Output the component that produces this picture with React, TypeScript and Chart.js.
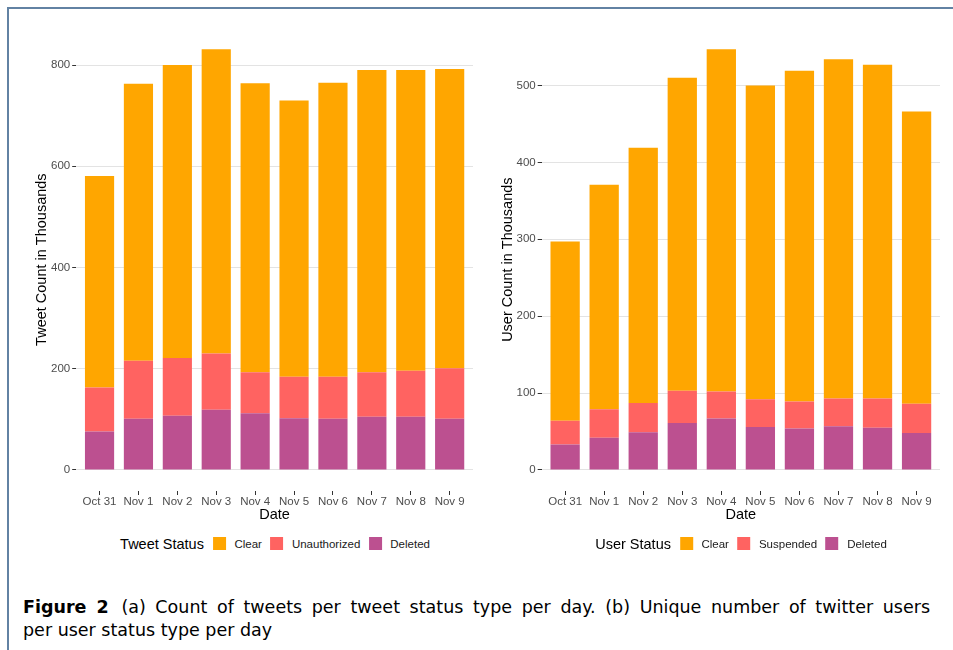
import React, { useEffect, useRef } from "react";
import { Chart, registerables } from "chart.js";

Chart.register(...registerables);

// ---------- data ----------
const dates = ["Oct 31", "Nov 1", "Nov 2", "Nov 3", "Nov 4", "Nov 5", "Nov 6", "Nov 7", "Nov 8", "Nov 9"];

// (a) tweets, thousands
const tweetDeleted = [76, 101, 107, 119, 112, 102, 101, 105, 105, 101];
const tweetUnauthorized = [87, 115, 114, 111, 81, 82, 83, 88, 91, 100];
const tweetClear = [418, 547, 579, 601, 571, 546, 581, 597, 594, 591];
const tweetTicks = [0, 200, 400, 600, 800];

// (b) users, thousands
const userDeleted = [33, 42, 49, 61, 67, 56, 54, 57, 55, 48];
const userSuspended = [31, 37, 38, 42, 35, 36, 35, 36, 38, 38];
const userClear = [233, 292, 332, 407, 445, 408, 430, 441, 434, 380];
const userTicks = [0, 100, 200, 300, 400, 500];

const COLOR_CLEAR = "#FFA600";
const COLOR_MID = "#FF6361";
const COLOR_DELETED = "#BC5090";

const FONT = "'Liberation Sans', Arial, Helvetica, sans-serif";
const CAPTION_FONT = "'DejaVu Sans', 'Open Sans', sans-serif";
Chart.defaults.font.family = FONT;

type PanelProps = {
  left: number;
  width: number;
  height: number;
  axisWidth: number;
  padRight: number;
  yTitle: string;
  yTicks: number[];
  deleted: number[];
  middle: number[];
  clear: number[];
  midLabel: string;
};

function Panel(p: PanelProps) {
  const ref = useRef<HTMLCanvasElement>(null);
  useEffect(() => {
    const totals = p.clear.map((c, i) => c + p.middle[i] + p.deleted[i]);
    const maxT = Math.max(...totals);
    const exp = maxT * 0.05;
    const toPts = (arr: number[]) => arr.map((v, i) => ({ x: i, y: v }));
    const chart = new Chart(ref.current as HTMLCanvasElement, {
      type: "bar",
      data: {
        datasets: [
          { label: "Deleted", data: toPts(p.deleted), backgroundColor: COLOR_DELETED },
          { label: p.midLabel, data: toPts(p.middle), backgroundColor: COLOR_MID },
          { label: "Clear", data: toPts(p.clear), backgroundColor: COLOR_CLEAR },
        ],
      },
      options: {
        animation: false,
        responsive: false,
        maintainAspectRatio: false,
        layout: { padding: { top: 28.3, right: p.padRight, left: 0, bottom: 0 } },
        plugins: { legend: { display: false }, tooltip: { enabled: false } },
        datasets: { bar: { barPercentage: 0.75, categoryPercentage: 1 } },
        scales: {
          x: {
            type: "linear",
            stacked: true,
            offset: false,
            min: -0.6,
            max: dates.length - 0.4,
            afterBuildTicks: (s: any) => {
              s.ticks = dates.map((_, i) => ({ value: i }));
            },
            afterFit: (s: any) => {
              s.height = p.height - 491;
            },
            ticks: {
              callback: (v: any) => dates[v as number] ?? "",
              font: { size: 11.5 },
              color: "#4D4D4D",
              padding: 0,
              maxRotation: 0,
              autoSkip: false,
            },
            grid: { offset: false, drawOnChartArea: false, drawTicks: true, tickLength: 4, tickColor: "#333333" },
            border: { display: false },
            title: { display: true, text: "Date", font: { size: 14.5 }, color: "#000000", padding: { top: 0, bottom: 6 } },
          },
          y: {
            type: "linear",
            stacked: true,
            min: -exp,
            max: maxT + exp,
            afterBuildTicks: (s: any) => {
              s.ticks = p.yTicks.map((v) => ({ value: v }));
            },
            afterFit: (s: any) => {
              s.width = p.axisWidth;
            },
            ticks: { font: { size: 11.5 }, color: "#4D4D4D", padding: 2 },
            grid: { color: "#E3E3E3", lineWidth: 1, tickColor: "#333333", tickLength: 4 },
            border: { display: false },
            title: { display: true, text: p.yTitle, font: { size: 14.5 }, color: "#000000", padding: { top: 33, bottom: 0 } },
          },
        },
      } as any,
    });
    return () => chart.destroy();
  }, []);
  return (
    <canvas
      ref={ref}
      width={p.width}
      height={p.height}
      style={{ position: "absolute", left: p.left, top: 0, width: p.width, height: p.height }}
    />
  );
}

function Legend({ center, title, items }: { center: number; title: string; items: { label: string; color: string }[] }) {
  return (
    <div
      style={{
        position: "absolute",
        left: center,
        top: 536.5,
        transform: "translateX(-50%)",
        display: "flex",
        alignItems: "center",
        height: 14,
        whiteSpace: "nowrap",
        fontFamily: FONT,
      }}
    >
      <span style={{ fontSize: 14.5, color: "#000", marginRight: 9 }}>{title}</span>
      {items.map((it, i) => (
        <span key={i} style={{ display: "flex", alignItems: "center", marginRight: i < items.length - 1 ? 8.5 : 0 }}>
          <span style={{ width: 13, height: 13, background: it.color, display: "inline-block", marginRight: 8.5 }} />
          <span style={{ fontSize: 11.5, color: "#1A1A1A" }}>{it.label}</span>
        </span>
      ))}
    </div>
  );
}

export default function App() {
  return (
    <div
      style={{
        position: "absolute",
        left: 0,
        top: 0,
        width: 953,
        height: 650,
        overflow: "hidden",
        background: "#FFFFFF",
      }}
    >
      <div
        style={{
          position: "absolute",
          left: 7,
          top: 7,
          width: 1000,
          height: 1000,
          border: "2px solid #6282A3",
          boxSizing: "border-box",
        }}
      />
      <Panel
        left={0}
        width={480}
        height={530}
        axisWidth={76.2}
        padRight={7}
        yTitle="Tweet Count in Thousands"
        yTicks={tweetTicks}
        deleted={tweetDeleted}
        middle={tweetUnauthorized}
        clear={tweetClear}
        midLabel="Unauthorized"
      />
      <Panel
        left={466}
        width={487}
        height={530}
        axisWidth={75.7}
        padRight={13}
        yTitle="User Count in Thousands"
        yTicks={userTicks}
        deleted={userDeleted}
        middle={userSuspended}
        clear={userClear}
        midLabel="Suspended"
      />
      <Legend
        center={275}
        title="Tweet Status"
        items={[
          { label: "Clear", color: COLOR_CLEAR },
          { label: "Unauthorized", color: COLOR_MID },
          { label: "Deleted", color: COLOR_DELETED },
        ]}
      />
      <Legend
        center={741}
        title="User Status"
        items={[
          { label: "Clear", color: COLOR_CLEAR },
          { label: "Suspended", color: COLOR_MID },
          { label: "Deleted", color: COLOR_DELETED },
        ]}
      />
      <div
        style={{
          position: "absolute",
          left: 23,
          top: 597,
          width: 907,
          fontFamily: CAPTION_FONT,
          fontSize: 17.5,
          lineHeight: "20px",
          color: "#000",
          textAlign: "justify",
          textAlignLast: "justify" as any,
          whiteSpace: "nowrap",
        }}
      >
        <b style={{ marginRight: 3 }}>Figure 2</b> (a) Count of tweets per tweet status type per day. (b) Unique number of twitter users
      </div>
      <div
        style={{
          position: "absolute",
          left: 23,
          top: 620,
          fontFamily: CAPTION_FONT,
          fontSize: 17.5,
          lineHeight: "20px",
          color: "#000",
          whiteSpace: "nowrap",
        }}
      >
        per user status type per day
      </div>
    </div>
  );
}
